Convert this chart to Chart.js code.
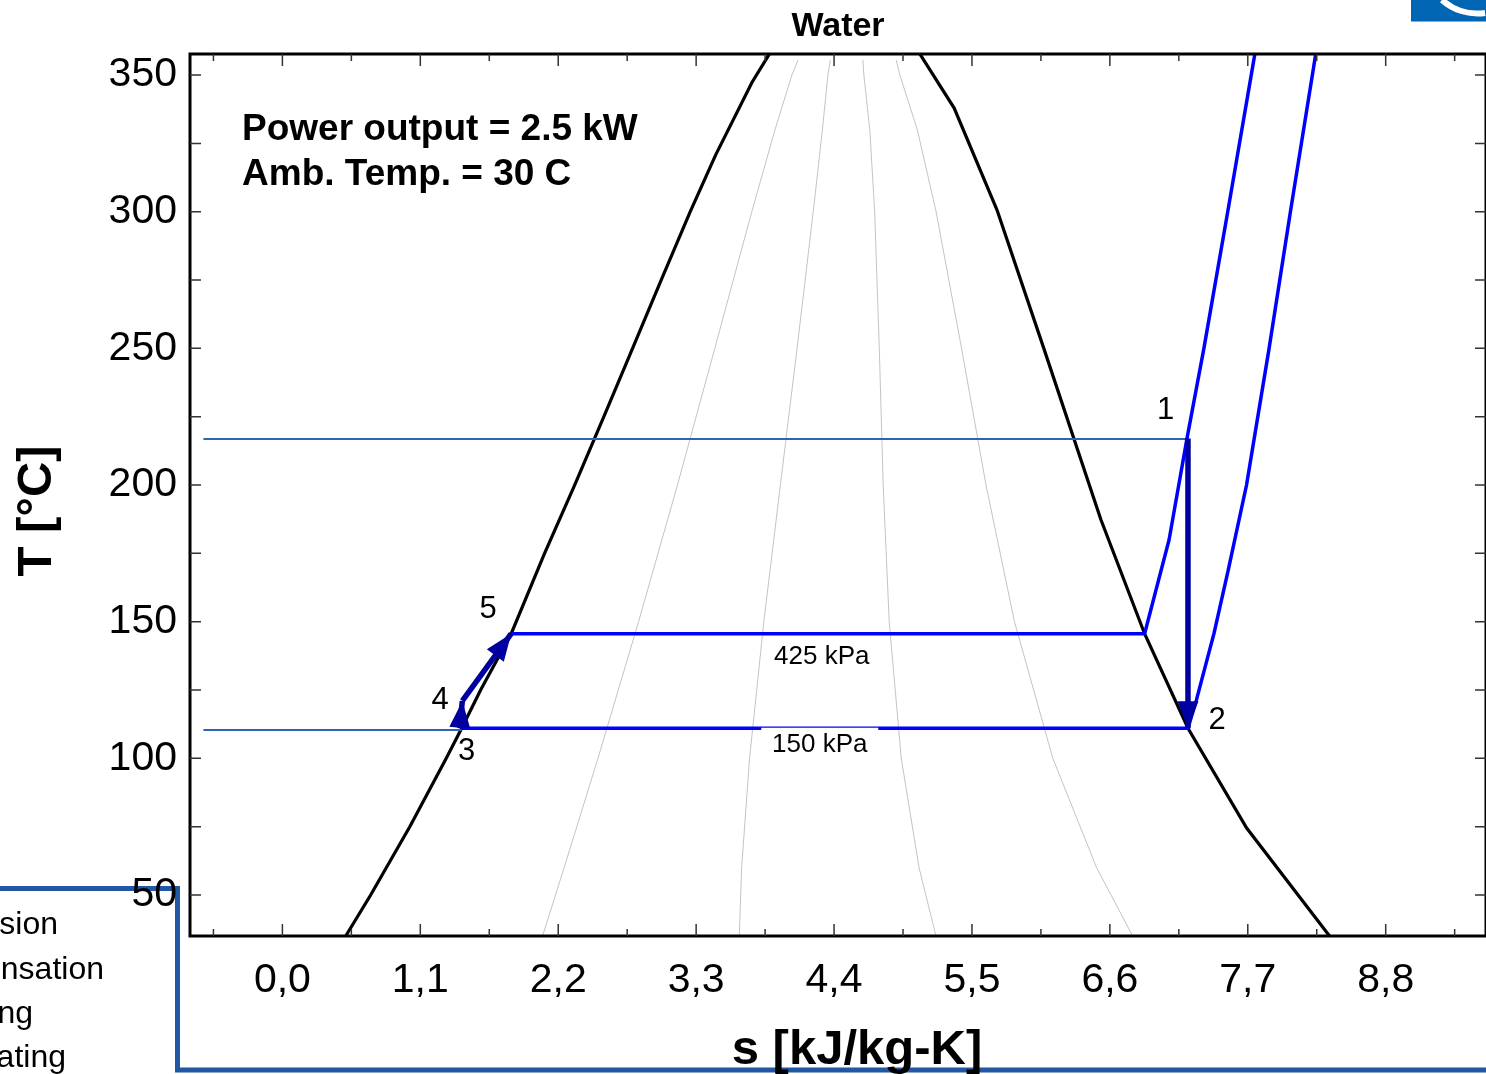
<!DOCTYPE html>
<html>
<head>
<meta charset="utf-8">
<script src="https://cdn.jsdelivr.net/npm/chart.js@4.4.0/dist/chart.umd.min.js"></script>
<style>
html,body{margin:0;padding:0;background:#fff;}
#wrap{width:1486px;height:1074px;position:relative;}
</style>
</head>
<body>
<div id="wrap"><canvas id="c"></canvas></div>
<script>
// ---------- text ----------
const chartTitle = 'Water';
const xAxisTitle = 's [kJ/kg-K]';
const yAxisTitle = 'T [°C]';

// ---------- axes ----------
const xMin = -0.737, xMax = 9.60;
const yMin = 35.0, yMax = 357.7;
const xTickValues = [0, 1.1, 2.2, 3.3, 4.4, 5.5, 6.6, 7.7, 8.8];
const xTickLabels = ['0,0', '1,1', '2,2', '3,3', '4,4', '5,5', '6,6', '7,7', '8,8'];
const xMinorTicks = [-0.55, 0.55, 1.65, 2.75, 3.85, 4.95, 6.05, 7.15, 8.25, 9.35];
const yTickValues = [50, 100, 150, 200, 250, 300, 350];
const yTickLabels = ['50', '100', '150', '200', '250', '300', '350'];
const yMinorTicks = [75, 125, 175, 225, 275, 325];

// ---------- saturation dome (liquid side up, vapour side down) ----------
const domeS = [0.505, 0.704, 1.016, 1.307, 1.430, 1.581, 1.825, 2.091, 2.331, 2.564, 2.793, 3.021, 3.253, 3.455, 3.745, 3.915,
               5.053, 5.358, 5.700, 6.073, 6.528, 6.877, 7.223, 7.691, 8.352];
const domeT = [35, 50, 75, 100, 111.0, 125, 145.6, 175, 200, 225, 250, 275, 300, 320.7, 347.3, 360,
               360, 337.9, 300.6, 250, 187.4, 145.6, 111.0, 74.5, 35];

// ---------- constant-quality lines ----------
const qualityT = [35, 60, 100, 150, 200, 250, 300, 330, 350, 355.5];
const q20S = [2.075, 2.247, 2.517, 2.841, 3.151, 3.449, 3.744, 3.929, 4.064, 4.113];
const q40S = [3.644, 3.663, 3.726, 3.840, 3.972, 4.105, 4.234, 4.307, 4.351, 4.370];
const q60S = [5.213, 5.078, 4.936, 4.840, 4.792, 4.761, 4.724, 4.685, 4.638, 4.630];
const q80S = [6.782, 6.494, 6.145, 5.839, 5.612, 5.417, 5.214, 5.064, 4.925, 4.895];

// ---------- isobars ----------
const p425S = [1.825, 6.877, 7.072, 7.215, 7.35, 7.54, 7.765];
const p425T = [145.6, 145.6, 179.9, 217.0, 250, 300, 360];
const p150S = [1.430, 7.223, 7.290, 7.430, 7.544, 7.69, 7.87, 8.04, 8.25];
const p150T = [111.0, 111.0, 121.3, 145.6, 168.9, 200, 250, 300, 360];

// ---------- reservoir isotherms ----------
const isoHighS = [-0.63, 7.215];
const isoHighT = [216.8, 216.8];
const isoLowS = [-0.63, 1.430];
const isoLowT = [110.4, 110.4];

// ---------- process arrows ----------
const arrow12S = [7.223, 7.223];
const arrow12T = [217.0, 111.0];
const arrow34S = [1.415, 1.435];
const arrow34T = [111.0, 121.0];
const arrow45S = [1.435, 1.825];
const arrow45T = [121.0, 145.6];

// ---------- state labels ----------
const stateLabels = ['1', '2', '3', '4', '5'];
const stateLabelS = [7.045, 7.455, 1.470, 1.257, 1.640];
const stateLabelT = [227.4, 113.8, 102.4, 121.0, 154.6];

const pressureLabels = ['425 kPa', '150 kPa'];
const pressureLabelS = [4.302, 4.286];
const pressureLabelT = [137.1, 104.9];

const noteLines = ['Power output = 2.5 kW', 'Amb. Temp. = 30 C'];
const noteS = -0.322;
const noteT = [326.2, 309.8];

// partially visible legend (cut off at the left edge)
const legendFragments = ['sion', 'nsation', 'ng', 'ating'];

const FONT = "'Liberation Sans', Arial, Helvetica, sans-serif";
Chart.defaults.font.family = FONT;
Chart.defaults.color = '#000';

const pts = (S, T) => S.map((s, i) => ({x: s, y: T[i]}));
const line = (S, T, color, width, extra) => Object.assign({
  data: pts(S, T), showLine: true, borderColor: color, backgroundColor: color,
  borderWidth: width, pointRadius: 0, pointHoverRadius: 0, tension: 0, fill: false
}, extra || {});

const DARK = '#0000a0', BLUE = '#0000ff', THIN = '#2e64b4', GREY = '#c4c4c4';

const datasets = [
  line(arrow12S, arrow12T, DARK, 5.5, {arrowHead: true}),
  line(arrow34S, arrow34T, DARK, 5.5, {arrowHead: true}),
  line(arrow45S, arrow45T, DARK, 5.5, {arrowHead: true}),
  line(p425S, p425T, BLUE, 3.5),
  line(p150S, p150T, BLUE, 3.5),
  line(isoHighS, isoHighT, THIN, 2),
  line(isoLowS, isoLowT, THIN, 2),
  line(domeS, domeT, '#000', 3.2),
  line(q20S, qualityT, GREY, 1),
  line(q40S, qualityT, GREY, 1),
  line(q60S, qualityT, GREY, 1),
  line(q80S, qualityT, GREY, 1)
];

const decor = {
  id: 'decor',
  beforeDraw(chart) {
    const ctx = chart.ctx;
    ctx.save();
    ctx.fillStyle = '#fff';
    ctx.fillRect(0, 0, chart.width, chart.height);
    // legend frame
    ctx.strokeStyle = '#2157a5';
    ctx.lineWidth = 5;
    ctx.lineJoin = 'miter';
    ctx.beginPath();
    ctx.moveTo(-6, 888.5);
    ctx.lineTo(177.5, 888.5);
    ctx.lineTo(177.5, 1070);
    ctx.lineTo(chart.width + 6, 1070);
    ctx.stroke();
    // legend text fragments
    ctx.fillStyle = '#000';
    ctx.font = '32px ' + FONT;
    ctx.textAlign = 'right';
    ctx.textBaseline = 'alphabetic';
    const ends = [58, 104, 33, 66];
    const bases = [934, 979, 1023, 1067];
    legendFragments.forEach((t, i) => ctx.fillText(t, ends[i], bases[i]));
    // logo corner
    ctx.fillStyle = '#0066b3';
    ctx.fillRect(1411, 0, 80, 21.5);
    ctx.strokeStyle = '#fff';
    ctx.lineWidth = 6;
    ctx.beginPath();
    ctx.arc(1477.6, -40, 53.5, 1.43, 2.30);
    ctx.stroke();
    ctx.restore();
  },
  afterDatasetsDraw(chart) {
    const ctx = chart.ctx;
    const xs = chart.scales.x, ys = chart.scales.y;
    const a = chart.chartArea;
    ctx.save();
    // frame
    ctx.strokeStyle = '#000';
    ctx.lineWidth = 3;
    ctx.strokeRect(a.left, a.top, a.right - a.left, a.bottom - a.top);
    // inward ticks on all four sides
    ctx.strokeStyle = '#333';
    ctx.lineWidth = 1.5;
    ctx.beginPath();
    const xt = (v, len) => {
      const p = xs.getPixelForValue(v);
      ctx.moveTo(p, a.bottom); ctx.lineTo(p, a.bottom - len);
      ctx.moveTo(p, a.top); ctx.lineTo(p, a.top + len);
    };
    const yt = (v, len) => {
      const p = ys.getPixelForValue(v);
      ctx.moveTo(a.left, p); ctx.lineTo(a.left + len, p);
      ctx.moveTo(a.right, p); ctx.lineTo(a.right - len, p);
    };
    xTickValues.forEach(v => xt(v, 12));
    xMinorTicks.forEach(v => xt(v, 7));
    yTickValues.forEach(v => yt(v, 11));
    yMinorTicks.forEach(v => yt(v, 11));
    ctx.stroke();
    // arrow heads
    chart.data.datasets.forEach((ds, i) => {
      if (!ds.arrowHead) return;
      const el = chart.getDatasetMeta(i).data;
      const p1 = el[el.length - 2], p2 = el[el.length - 1];
      const ang = Math.atan2(p2.y - p1.y, p2.x - p1.x);
      const L = 27, W = 10.5;
      const bx = p2.x - L * Math.cos(ang), by = p2.y - L * Math.sin(ang);
      ctx.fillStyle = ds.borderColor;
      ctx.beginPath();
      ctx.moveTo(p2.x, p2.y);
      ctx.lineTo(bx + W * Math.sin(ang), by - W * Math.cos(ang));
      ctx.lineTo(bx - W * Math.sin(ang), by + W * Math.cos(ang));
      ctx.closePath();
      ctx.fill();
    });
    // state labels
    ctx.fillStyle = '#000';
    ctx.textAlign = 'center';
    ctx.textBaseline = 'middle';
    ctx.font = '31px ' + FONT;
    stateLabels.forEach((t, i) => ctx.fillText(t, xs.getPixelForValue(stateLabelS[i]), ys.getPixelForValue(stateLabelT[i])));
    // pressure labels with white boxes
    ctx.font = '26px ' + FONT;
    pressureLabels.forEach((t, i) => {
      const cx = xs.getPixelForValue(pressureLabelS[i]);
      const cy = ys.getPixelForValue(pressureLabelT[i]);
      ctx.fillStyle = '#fff';
      ctx.fillRect(cx - 58.5, cy - 17.2, 117, 34.4);
      ctx.fillStyle = '#000';
      ctx.fillText(t, cx, cy);
    });
    // note
    ctx.font = 'bold 37px ' + FONT;
    ctx.textAlign = 'left';
    ctx.textBaseline = 'alphabetic';
    noteLines.forEach((t, i) => ctx.fillText(t, xs.getPixelForValue(noteS), ys.getPixelForValue(noteT[i])));
    // axis titles
    ctx.font = 'bold 49px ' + FONT;
    ctx.textAlign = 'center';
    ctx.fillText(xAxisTitle, (a.left + a.right) / 2 + 19, 1064);
    ctx.translate(51, (a.top + a.bottom) / 2 + 16);
    ctx.rotate(-Math.PI / 2);
    ctx.fillText(yAxisTitle, 0, 0);
    ctx.restore();
  }
};

new Chart(document.getElementById('c'), {
  type: 'scatter',
  data: {datasets},
  plugins: [decor],
  options: {
    responsive: true,
    maintainAspectRatio: false,
    devicePixelRatio: 1,
    animation: false,
    events: [],
    layout: {padding: {left: 0, right: 0, top: 0, bottom: 0}},
    plugins: {
      legend: {display: false},
      tooltip: {enabled: false},
      title: {
        display: true, text: chartTitle, fullSize: false, color: '#000',
        font: {size: 34, weight: 'bold', family: FONT},
        padding: {top: 6, bottom: 7.2}
      }
    },
    scales: {
      x: {
        type: 'linear', min: xMin, max: xMax,
        afterBuildTicks: s => { s.ticks = xTickValues.map(v => ({value: v})); },
        afterFit: s => { s.height = 138; },
        grid: {display: false, drawTicks: false},
        border: {display: false},
        ticks: {
          autoSkip: false, maxRotation: 0, padding: 20, color: '#000',
          font: {size: 41, family: FONT},
          callback: (v, i) => xTickLabels[i]
        }
      },
      y: {
        type: 'linear', min: yMin, max: yMax,
        afterBuildTicks: s => { s.ticks = yTickValues.map(v => ({value: v})); },
        afterFit: s => { s.width = 190; },
        grid: {display: false, drawTicks: false},
        border: {display: false},
        ticks: {
          autoSkip: false, padding: 13, color: '#000',
          font: {size: 41, family: FONT},
          callback: (v, i) => yTickLabels[i]
        }
      }
    }
  }
});
</script>
</body>
</html>
